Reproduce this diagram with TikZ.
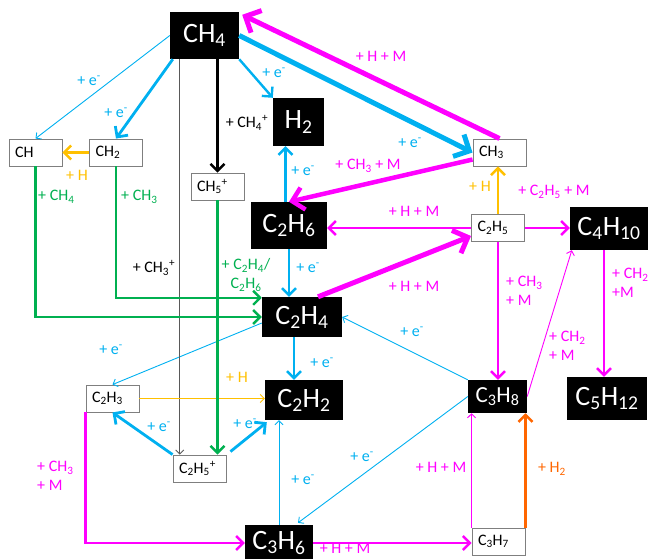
\documentclass[tikz,border=0pt]{standalone}
\usepackage{fontspec}
\setmainfont{Carlito}
\usetikzlibrary{arrows.meta,calc}

\definecolor{ecyan}{HTML}{00B0F0}
\definecolor{emag}{HTML}{FF00FF}
\definecolor{egreen}{HTML}{00B050}
\definecolor{eyel}{HTML}{FFC000}
\definecolor{eorange}{HTML}{FF6600}
\definecolor{boxgray}{HTML}{7F7F7F}
\definecolor{linegray}{HTML}{595959}

\tikzset{
  bigbox/.style={fill=black, text=white, inner sep=0pt, font=\fontsize{28}{30}\selectfont},
  smallbox/.style={draw=boxgray, line width=0.9pt, fill=white, inner xsep=6pt, inner ysep=0pt,
    minimum height=27pt, text width=41pt, align=left, font=\fontsize{16}{18}\selectfont},
  lbl/.style={inner sep=0pt, font=\fontsize{16}{19}\selectfont},
  wthin/.style={line width=0.9pt},
  wmed/.style={line width=2.4pt},
  conn/.style={-{Straight Barb[length=2.2pt 2, width=4.5pt 4]}},
}

\begin{document}
\begin{tikzpicture}[x=1pt, y=-1pt]
\useasboundingbox (0,0) rectangle (652,558);
\clip (0,0) rectangle (652,558);

% ---- species: black boxes ----
\node[bigbox, minimum width=69pt, minimum height=47pt] (CH4)  at (204.5,35.5) {CH\textsubscript{4}};
\node[bigbox, minimum width=51pt, minimum height=48pt] (H2)   at (298.5,122)  {H\textsubscript{2}};
\node[bigbox, minimum width=76pt, minimum height=47pt] (C2H6) at (289,225.5)  {C\textsubscript{2}H\textsubscript{6}};
\node[bigbox, minimum width=80pt, minimum height=40pt] (C2H4) at (302,317)    {C\textsubscript{2}H\textsubscript{4}};
\node[bigbox, minimum width=78pt, minimum height=40pt] (C2H2) at (304,400)    {C\textsubscript{2}H\textsubscript{2}};
\node[bigbox, minimum width=78pt, minimum height=43pt] (C4H10) at (609,228.5) {C\textsubscript{4}H\textsubscript{10}};
\node[bigbox, minimum width=80pt, minimum height=43pt] (C5H12) at (607,398.5) {C\textsubscript{5}H\textsubscript{12}};
\node[bigbox, minimum width=59pt, minimum height=33pt, font=\fontsize{23}{25}\selectfont] (C3H8) at (497.5,396.5) {C\textsubscript{3}H\textsubscript{8}};
\node[bigbox, minimum width=68pt, minimum height=36pt] (C3H6) at (279,543)    {C\textsubscript{3}H\textsubscript{6}};

% ---- species: white boxes ----
\node[smallbox] (CH)    at (35.5,152.5)  {CH};
\node[smallbox] (CH2)   at (116,152.5)   {CH\textsubscript{2}};
\node[smallbox] (CH5p)  at (217.5,186.5) {CH\textsubscript{5}\textsuperscript{+}};
\node[smallbox] (CH3)   at (499.5,152.5) {CH\textsubscript{3}};
\node[smallbox] (C2H5)  at (498,228)     {C\textsubscript{2}H\textsubscript{5}};
\node[smallbox] (C2H3)  at (112.5,398.5) {C\textsubscript{2}H\textsubscript{3}};
\node[smallbox] (C2H5p) at (199.5,468.5) {C\textsubscript{2}H\textsubscript{5}\textsuperscript{+}};
\node[smallbox] (C3H7)  at (498.5,541.5) {C\textsubscript{3}H\textsubscript{7}};

% ---- electron impact (cyan) ----
\draw[conn, ecyan, wthin] (CH4.west) -- (CH.north);
\draw[conn, ecyan, line width=2.8pt] ($(CH4.south west)+(3,0)$) -- (CH2.north);
\draw[conn, ecyan, wmed] (CH4.south east) -- (H2.north west);
\draw[conn, ecyan, line width=5pt] (CH4.east) -- (CH3.west);
\coordinate (h2foot) at ($(H2.south)+(-13,0)$);
\draw[conn, ecyan, wmed] (h2foot |- C2H6.north) -- (h2foot);
\draw[conn, ecyan, wmed] (C2H6.south) -- (C2H6.south |- C2H4.north);
\coordinate (c2h4foot) at ($(C2H4.south)+(-8,0)$);
\draw[conn, ecyan, wmed] (c2h4foot) -- (c2h4foot |- C2H2.north);
\draw[conn, ecyan, wthin] (C3H8.north west) -- (C2H4.east);
\draw[conn, ecyan, wthin] ($(C2H4.west)+(0,6)$) -- (C2H3.north);
\draw[conn, ecyan, line width=2.8pt] (C2H5p.north west) -- (C2H3.south);
\draw[conn, ecyan, line width=2.8pt] ($(C2H5p.north east)+(4,-3)$) -- ($(C2H2.south west)+(2,2)$);
\draw[conn, ecyan, wthin] (C3H6.north) -- (C3H6.north |- C2H2.south);
\draw[conn, ecyan, wthin] (C3H8.west) -- ($(C3H6.north)+(19,-2)$);

% ---- ion reactions (black / gray) ----
\coordinate (ch4leg) at ($(CH4.south west)+(10,0)$);
\draw[conn, linegray, wthin] (ch4leg) -- (ch4leg |- C2H5p.north);
\draw[conn, black, wmed] (CH5p.north |- CH4.south) -- (CH5p.north);

% ---- neutral chemistry (magenta) ----
\draw[conn, emag, line width=5pt] (CH3.north) -- ($(CH4.north east)+(3,3)$);
\draw[conn, emag, line width=4.5pt] ($(CH3.west)+(0,7)$) -- (C2H6.north);
\draw[conn, emag, line width=5pt] ($(C2H4.north)+(16,0)$) -- ($(C2H5.west)+(0,8)$);
\draw[conn, emag, wmed] (C2H5.west) -- (C2H6.east |- C2H5.west);
\draw[conn, emag, wmed] (C2H5.east) -- (C4H10.west |- C2H5.east);
\draw[conn, emag, wmed] (C2H5.south) -- (C2H5.south |- C3H8.north);
\draw[conn, emag, wthin] (C3H8.east) -- ($(C4H10.south west)+(2,0)$);
\coordinate (c4foot) at ($(C4H10.south)+(-5,0)$);
\draw[conn, emag, wmed] (c4foot) -- (c4foot |- C5H12.north);
\draw[conn, emag, wmed] (C2H3.south west) |- (C3H6.west);
\draw[conn, emag, wmed] (C3H6.east) -- (C3H7.west |- C3H6.east);
\draw[conn, emag, wthin] (C3H7.north west) -- (C3H7.north west |- C3H8.south);

% ---- hydrogen additions (yellow / orange) ----
\draw[conn, eyel, wmed] (CH2.west) -- (CH.east);
\draw[conn, eyel, wmed] (C2H5.north) -- (C2H5.north |- CH3.south);
\draw[conn, eyel, wthin] (C2H3.east) -- (C2H2.west |- C2H3.east);
\draw[conn, eorange, wmed] (C3H7.north east) -- (C3H7.north east |- C3H8.south);

% ---- ion-molecule growth (green) ----
\draw[conn, egreen, wmed] (CH.south) |- (C2H4.west);
\draw[conn, egreen, wmed] (CH2.south) |- ($(C2H4.north west)+(0,1)$);
\draw[conn, egreen, wmed] (CH5p.south) -- (CH5p.south |- C2H5p.north);

% ---- reaction labels ----
\node[lbl, text=ecyan] at (89,81)   {+ e\textsuperscript{-}};
\node[lbl, text=ecyan] at (116,113) {+ e\textsuperscript{-}};
\node[lbl, text=ecyan] at (274,73)  {+ e\textsuperscript{-}};
\node[lbl, text=ecyan] at (410,143) {+ e\textsuperscript{-}};
\node[lbl, text=ecyan] at (303,171) {+ e\textsuperscript{-}};
\node[lbl, text=ecyan] at (308,268) {+ e\textsuperscript{-}};
\node[lbl, text=ecyan] at (412,332) {+ e\textsuperscript{-}};
\node[lbl, text=ecyan] at (111,350) {+ e\textsuperscript{-}};
\node[lbl, text=ecyan] at (322,363) {+ e\textsuperscript{-}};
\node[lbl, text=ecyan] at (159,427) {+ e\textsuperscript{-}};
\node[lbl, text=ecyan] at (245,424) {+ e\textsuperscript{-}};
\node[lbl, text=ecyan] at (303,480) {+ e\textsuperscript{-}};
\node[lbl, text=ecyan] at (362,457) {+ e\textsuperscript{-}};

\node[lbl, text=black] at (247,123) {+ CH\textsubscript{4}\textsuperscript{+}};
\node[lbl, text=black] at (154,268) {+ CH\textsubscript{3}\textsuperscript{+}};

\node[lbl, text=egreen, anchor=west] at (38,197)  {+ CH\textsubscript{4}};
\node[lbl, text=egreen, anchor=west] at (121,197) {+ CH\textsubscript{3}};
\node[lbl, text=egreen, align=center] at (246,275) {+ C\textsubscript{2}H\textsubscript{4}/\\C\textsubscript{2}H\textsubscript{6}};

\node[lbl, text=eyel] at (77,175)  {+ H};
\node[lbl, text=eyel] at (480,186) {+ H};
\node[lbl, text=eyel] at (237,377) {+ H};
\node[lbl, text=eorange] at (552,469) {+ H\textsubscript{2}};

\node[lbl, text=emag] at (381,56)  {+ H + M};
\node[lbl, text=emag] at (368,166) {+ CH\textsubscript{3} + M};
\node[lbl, text=emag] at (554,192) {+ C\textsubscript{2}H\textsubscript{5} + M};
\node[lbl, text=emag] at (414,211) {+ H + M};
\node[lbl, text=emag] at (414,286) {+ H + M};
\node[lbl, text=emag, align=left, anchor=west] at (506,291) {+ CH\textsubscript{3}\\+ M};
\node[lbl, text=emag, align=left, anchor=west] at (549,346) {+ CH\textsubscript{2}\\+ M};
\node[lbl, text=emag, align=left, anchor=west] at (612,283) {+ CH\textsubscript{2}\\+M};
\node[lbl, text=emag, align=left, anchor=west] at (37,476) {+ CH\textsubscript{3}\\+ M};
\node[lbl, text=emag] at (441,467) {+ H + M};
\node[lbl, text=emag] at (345,548.5) {+ H + M};
\end{tikzpicture}
\end{document}
